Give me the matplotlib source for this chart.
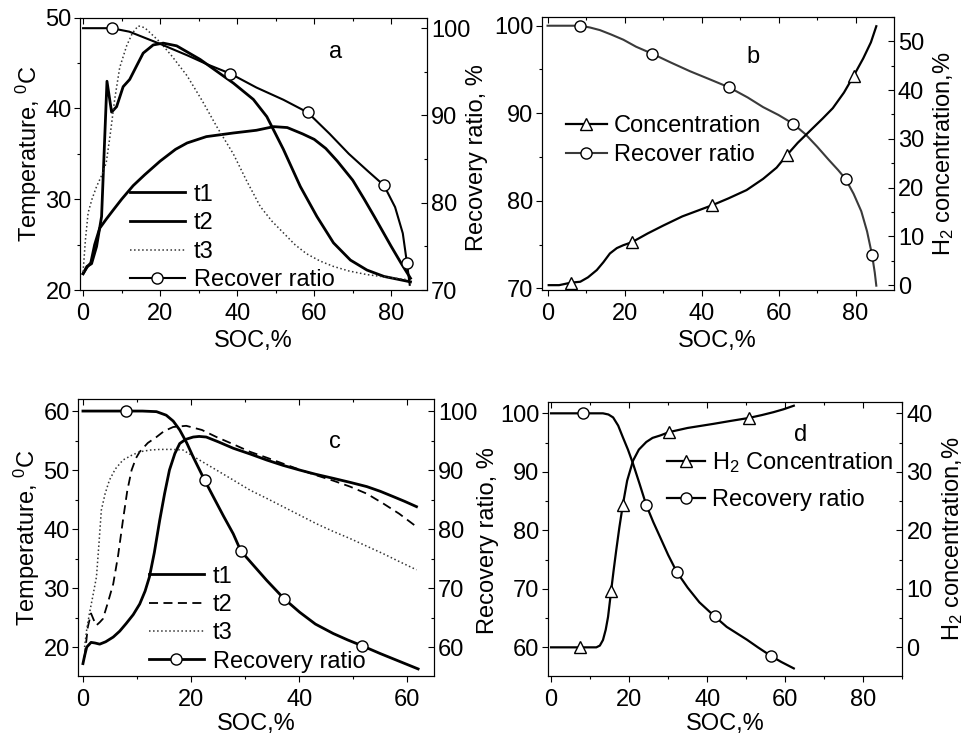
import matplotlib
matplotlib.use("Agg")
import matplotlib.pyplot as plt
from matplotlib.ticker import MultipleLocator

plt.rcParams['font.family'] = ['Liberation Sans', 'DejaVu Sans']
plt.rcParams['font.size'] = 17
plt.rcParams['mathtext.fontset'] = 'custom'
plt.rcParams['mathtext.rm'] = 'Liberation Sans'
plt.rcParams['mathtext.default'] = 'regular'

# ---- panel a: temperatures (left) and recover ratio (right)
a_soc_t1 = [0, 1, 2.2, 3.5, 4.8, 6.2, 7.4, 8.7, 10.4, 12.1, 13.9, 15.6, 18.2, 20.8, 24.3, 30.4, 39, 44.2,
            47.7, 52, 56.4, 60.7, 65, 69.4, 73.7, 78.1, 85]
a_t1 = [21.8, 22.6, 22.9, 24.8, 28.1, 43, 39.6, 40.2, 42.4, 43.2, 44.7, 46.1, 47, 47.2, 46.9, 45.4, 42.8, 41,
        39.1, 35.5, 31.4, 28.1, 25.2, 23.3, 22.2, 21.5, 20.9]
a_soc_t2 = [0, 1, 2, 3, 4.3, 6, 7.8, 10, 13, 16, 20, 24, 27, 32, 39, 45, 49.5, 53, 57, 60, 63, 66, 70, 73,
            75.6, 78, 80, 82.5, 85]
a_t2 = [21.8, 22.5, 23, 25, 26.8, 27.8, 28.8, 30, 31.5, 32.7, 34.2, 35.5, 36.2, 36.9, 37.3, 37.6, 38, 37.9,
        37.2, 36.6, 35.6, 34.2, 32.1, 30, 28.1, 26.3, 24.8, 23, 21.3]
a_soc_t3 = [0, 0.6, 1.3, 2.3, 3.5, 4.8, 6, 7, 8.2, 9.5, 11.3, 12.8, 14.3, 16, 18, 20, 23, 27, 31, 34.7, 39,
            42.5, 46, 49, 52, 55, 58, 61.5, 65, 69, 73.7, 79, 85]
a_t3 = [22, 25.5, 28.5, 30, 31.4, 32.6, 34, 37, 41, 44.5, 46.9, 48.3, 49.1, 48.9, 48.1, 47.3, 45.8, 43.6,
        40.8, 38, 35, 32, 29.2, 27.6, 26.3, 25, 24, 23.2, 22.6, 22.1, 21.7, 21.4, 21.1]
a_soc_rr = [0, 3, 7.4, 12, 16, 20, 27, 32, 38.2, 45, 52, 58.3, 64, 69, 74, 78.1, 81, 83, 84.1, 84.8]
a_rr = [100, 100, 100, 99.6, 98.9, 98.2, 96.9, 95.9, 94.8, 93.2, 91.8, 90.35, 87.9, 85.6, 83.6, 82,
        79.5, 76.5, 73.05, 70.6]
a_rr_marks = [2, 8, 11, 15, 18]

# ---- panel b: recover ratio (left) and H2 concentration (right)
b_soc_rr = [0, 4, 8.5, 11, 13.6, 16.5, 19.7, 23, 27.2, 32, 37, 42, 47.2, 52, 56, 60, 63.8, 67, 70, 73,
            75.5, 77.4, 79.5, 81.5, 83, 84.3, 85, 85.4]
b_rr = [100, 100, 100, 99.8, 99.5, 99, 98.4, 97.6, 96.8, 95.8, 94.8, 93.9, 92.95, 91.8, 90.7, 89.8, 88.8,
        87.6, 86.2, 84.7, 83.5, 82.5, 80.8, 78.8, 76.5, 73.8, 71.8, 70.3]
b_rr_marks = [2, 8, 12, 16, 21, 25]
b_soc_c = [0.3, 3, 6, 8.5, 10.5, 12.8, 14.5, 16.2, 18, 19.7, 21.9, 26, 30, 35, 42.8, 47, 51.7, 56, 59.5,
           62.2, 65, 68.9, 71.5, 74.1, 77, 79.5, 82, 84, 85.4]
b_c = [0, 0, 0.5, 0.7, 1.6, 3.1, 4.7, 6.5, 7.6, 8.2, 8.8, 10.6, 12.2, 14.1, 16.4, 17.8, 19.5, 21.8, 24.1,
       26.7, 29.2, 32.2, 34.2, 36.3, 39.5, 42.9, 46.5, 49.8, 53.1]
b_c_marks = [2, 10, 14, 19, 25]

# ---- panel c
c_soc_t1 = [0, 0.3, 0.7, 1.5, 2.2, 3.1, 4.2, 5.6, 6.8, 8, 9.3, 10.5, 11.5, 12.3, 13.2, 14.2, 15.1, 16, 17,
            17.9, 19, 20.4, 21.5, 22.8, 25, 27.8, 31, 34, 37, 40.1, 43, 46.3, 49.5, 52.5, 55, 57.4, 59.5, 61.7]
c_t1 = [17.2, 18.5, 20, 20.8, 20.7, 20.5, 20.9, 21.7, 22.7, 24, 25.5, 27.3, 29.5, 31.9, 36, 41.5, 46, 50,
        52.8, 54.5, 55.2, 55.6, 55.7, 55.6, 54.8, 53.7, 52.7, 51.7, 50.8, 50, 49.3, 48.6, 47.9, 47.2, 46.4,
        45.5, 44.7, 43.8]
c_soc_t2 = [0.3, 0.9, 1.5, 2, 2.5, 3.1, 3.7, 4.6, 5.6, 6.5, 7.4, 8.2, 9, 9.8, 10.5, 12, 13.6, 15, 16.7,
            19.1, 22, 24.7, 28, 30.9, 34, 37, 40, 43.2, 46.3, 49.4, 52.5, 55.6, 58.5, 61.7]
c_t2 = [18.3, 23.4, 25.7, 24.6, 23.7, 24.2, 24.8, 27.5, 30.7, 35.5, 41.5, 46.5, 50, 52, 53.1, 54.6, 55.6,
        56.6, 57.3, 57.5, 56.8, 55.6, 54.3, 53.1, 52.1, 51.1, 50.1, 49.1, 48.2, 47.2, 46, 44.3, 42.6, 40.4]
c_soc_t3 = [0.3, 0.7, 1.2, 1.8, 2.5, 3, 3.4, 4.1, 4.9, 6, 7.4, 9, 10.5, 12.5, 14.2, 16.5, 18.5, 21, 24.7,
            28, 30.9, 34, 37, 40, 43.2, 46.3, 49.4, 52.5, 55.6, 58.5, 61.7]
c_t3 = [20, 23, 25.7, 28.5, 31.9, 38, 43.2, 46, 48.3, 50.2, 51.7, 52.5, 53.1, 53.4, 53.5, 53.5, 53.4, 52,
        50, 48.2, 46.6, 45.2, 43.8, 42.4, 40.9, 39.6, 38.4, 37.1, 35.8, 34.5, 33.1]
c_soc_rr = [0, 4, 7.9, 11, 13.6, 15.4, 16.7, 17.9, 19.2, 20.4, 22.5, 24.1, 26, 27.8, 29.2, 31.5, 34, 37.2,
            40.1, 43, 46.3, 49, 51.7, 55, 58.5, 62]
c_rr = [100, 100, 100, 100, 99.9, 99.3, 98.3, 96.8, 94.6, 92.2, 88.3, 85.5, 82.2, 79.2, 76.3, 73.9, 71.3,
        68.2, 65.9, 63.9, 62.3, 61.2, 60.2, 58.9, 57.6, 56.3]
c_rr_marks = [2, 10, 14, 17, 22]

# ---- panel d
d_soc_rr = [0, 4, 8.3, 11, 13.3, 14.7, 15.9, 17.2, 18.4, 19.7, 21, 22.7, 24.4, 26.2, 27.9, 30, 32.2, 35,
            38, 41.9, 45, 50.2, 53, 56.4, 59, 62.2]
d_rr = [100, 100, 100, 100, 100, 99.8, 99.3, 97.9, 95.9, 93.8, 91.4, 87.9, 84.3, 81.4, 78.9, 75.8, 72.9,
        70.2, 67.7, 65.3, 63.5, 61.3, 60, 58.5, 57.5, 56.4]
d_rr_marks = [2, 12, 16, 19, 23]
d_soc_c = [0, 4, 7.5, 11.6, 12.5, 13.3, 14, 14.6, 15.4, 16, 16.7, 17.5, 18.4, 19.5, 21, 22.5, 24.4, 26,
           27.9, 30.3, 35, 41.6, 46, 50.6, 54, 57, 59.6, 62.2]
d_c = [0, 0, 0, 0, 0.3, 1.25, 3, 5.2, 9.7, 13, 16.6, 20.5, 24.4, 28.5, 31.9, 33.8, 35.1, 35.8, 36.2, 36.8,
       37.5, 38.2, 38.7, 39.2, 39.7, 40.2, 40.7, 41.3]
d_c_marks = [2, 8, 12, 19, 23]

MK = dict(markersize=8, markerfacecolor='white', markeredgecolor='black', markeredgewidth=1)


def style(ax, ax2, ymaj, ymin, y2maj, y2min, xpad=5):
    for a in (ax, ax2):
        for s in a.spines.values():
            s.set_linewidth(0.8)
    ax.xaxis.set_major_locator(MultipleLocator(20))
    ax.xaxis.set_minor_locator(MultipleLocator(10))
    ax.yaxis.set_major_locator(MultipleLocator(ymaj))
    ax.yaxis.set_minor_locator(MultipleLocator(ymin))
    ax2.yaxis.set_major_locator(MultipleLocator(y2maj))
    ax2.yaxis.set_minor_locator(MultipleLocator(y2min))
    ax.tick_params(which='major', direction='out', length=4, width=0.8, pad=2)
    ax.tick_params(which='minor', direction='out', length=2.5, width=0.8)
    ax.tick_params(axis='x', which='major', pad=xpad)
    ax2.tick_params(axis='y', which='major', direction='in', length=4, width=0.8, pad=3)
    ax2.tick_params(axis='y', which='minor', direction='in', length=2.5, width=0.8)
    # inward ticks on the top edge
    ax2.xaxis.set_visible(True)
    ax2.tick_params(axis='x', which='both', bottom=False, top=True, labelbottom=False,
                    labeltop=False, direction='in', width=0.8)
    ax2.tick_params(axis='x', which='major', length=4)
    ax2.tick_params(axis='x', which='minor', length=2.5)


fig = plt.figure(figsize=(9.64, 7.38), dpi=100)

# panel a
ax = fig.add_axes([0.083, 0.607, 0.360, 0.369])
ax2 = ax.twinx()
l1, = ax.plot(a_soc_t1, a_t1, color='black', lw=2.0)
l2, = ax.plot(a_soc_t2, a_t2, color='black', lw=2.0)
l3, = ax.plot(a_soc_t3, a_t3, color='#333333', lw=1.1, ls=':')
l4, = ax2.plot(a_soc_rr, a_rr, color='black', lw=1.5, marker='o', markevery=a_rr_marks, **MK)
ax.set_xlim(-0.8, 89.3)
ax.set_ylim(20, 50)
ax2.set_ylim(70, 101.2)
style(ax, ax2, 10, 5, 10, 5)
ax.set_xlabel('SOC,%', labelpad=4)
ax.set_ylabel('Temperature, $^0$C', labelpad=1)
ax.text(0.735, 0.875, 'a', transform=ax.transAxes, ha='center', va='center')
ax.legend([l1, l2, l3, l4], ['t1', 't2', 't3', 'Recover ratio'], loc='lower left',
          bbox_to_anchor=(0.145, -0.005), frameon=False, handlelength=2.3, handletextpad=0.4,
          labelspacing=0.28, borderpad=0, borderaxespad=0)

# panel b
bx = fig.add_axes([0.562, 0.607, 0.365, 0.370])
bx2 = bx.twinx()
m1, = bx2.plot(b_soc_c, b_c, color='black', lw=1.6, marker='^', markevery=b_c_marks, **MK)
m2, = bx.plot(b_soc_rr, b_rr, color='#3a3a3a', lw=1.5, marker='o', markevery=b_rr_marks, **MK)
bx.set_xlim(-1.5, 89.9)
bx.set_ylim(69.8, 101)
bx2.set_ylim(-1.0, 55)
style(bx, bx2, 10, 5, 10, 5)
bx.set_xlabel('SOC,%', labelpad=4)
bx2.set_ylabel('H$_2$ concentration,%', labelpad=5)
bx.text(0.6, 0.853, 'b', transform=bx.transAxes, ha='center', va='center')
bx.legend([m1, m2], ['Concentration', 'Recover ratio'], loc='upper left',
          bbox_to_anchor=(0.07, 0.64), frameon=False, handlelength=1.7, handletextpad=0.3,
          labelspacing=0.3, borderpad=0, borderaxespad=0)
fig.text(477 / 964, 1 - 158 / 738, 'Recovery ratio, %', rotation=90, ha='center', va='center')

# panel c
cx = fig.add_axes([0.081, 0.084, 0.369, 0.375])
cx2 = cx.twinx()
n1, = cx.plot(c_soc_t1, c_t1, color='black', lw=2.0)
n2, = cx.plot(c_soc_t2, c_t2, color='black', lw=1.3, ls=(0, (5, 3)))
n3, = cx.plot(c_soc_t3, c_t3, color='#333333', lw=1.1, ls=':')
n4, = cx2.plot(c_soc_rr, c_rr, color='black', lw=2.0, marker='o', markevery=c_rr_marks, **MK)
cx.set_xlim(-0.9, 64.9)
cx.set_ylim(15.1, 62)
cx2.set_ylim(55.1, 102)
style(cx, cx2, 10, 5, 10, 5, xpad=5.5)
cx.set_xlabel('SOC,%', labelpad=1)
cx.set_ylabel('Temperature, $^0$C', labelpad=1)
cx.text(0.722, 0.845, 'c', transform=cx.transAxes, ha='center', va='center')
cx.legend([n1, n2, n3, n4], ['t1', 't2', 't3', 'Recovery ratio'], loc='lower left',
          bbox_to_anchor=(0.2, 0.012), frameon=False, handlelength=2.3, handletextpad=0.4,
          labelspacing=0.27, borderpad=0, borderaxespad=0)

# panel d
dx = fig.add_axes([0.568, 0.084, 0.368, 0.371])
dx2 = dx.twinx()
k1, = dx2.plot(d_soc_c, d_c, color='black', lw=1.6, marker='^', markevery=d_c_marks, **MK)
k2, = dx.plot(d_soc_rr, d_rr, color='black', lw=1.6, marker='o', markevery=d_rr_marks, **MK)
dx.set_xlim(-0.9, 90)
dx.set_ylim(55.1, 101.9)
dx2.set_ylim(-4.9, 41.9)
style(dx, dx2, 10, 5, 10, 5, xpad=5.5)
dx.set_xlabel('SOC,%', labelpad=1)
dx2.set_ylabel('H$_2$ concentration,%', labelpad=5)
dx.text(0.712, 0.88, 'd', transform=dx.transAxes, ha='center', va='center')
dx.legend([k1, k2], ['H$_2$ Concentration', 'Recovery ratio'], loc='upper left',
          bbox_to_anchor=(0.336, 0.825), frameon=False, handlelength=1.6, handletextpad=0.3,
          labelspacing=0.6, borderpad=0, borderaxespad=0)
fig.text(488 / 964, 1 - 541 / 738, 'Recovery ratio, %', rotation=90, ha='center', va='center')

fig.savefig('out.png', dpi=100)
